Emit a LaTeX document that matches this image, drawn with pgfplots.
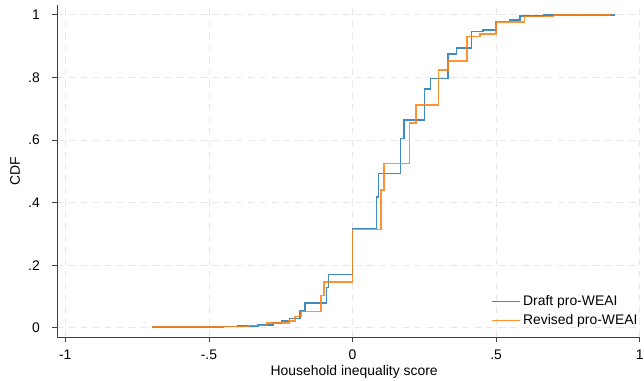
\documentclass[border=0pt]{standalone}
\usepackage{pgfplots}
\pgfplotsset{compat=1.18}
\usepackage{pgfplotstable}
\usepackage{fontspec}
\setmainfont{Liberation Sans}
\definecolor{draftblue}{HTML}{1F77B4}
\definecolor{revorange}{HTML}{FF7F0E}
\definecolor{gridgray}{HTML}{E8E8E8}
\definecolor{axgray}{HTML}{404040}

\pgfplotstableread{
x y
-0.698 0.002
-0.45 0.004
-0.40 0.006
-0.33 0.010
-0.276 0.015
-0.247 0.022
-0.22 0.030
-0.182 0.054
-0.165 0.080
-0.09 0.129
-0.083 0.170
0.0 0.318
0.084 0.418
0.090 0.493
0.167 0.605
0.180 0.663
0.250 0.762
0.272 0.797
0.333 0.874
0.362 0.893
0.414 0.946
0.454 0.952
0.500 0.979
0.546 0.984
0.584 0.996
0.666 1.0
0.914 1.0
}\drafttab

\pgfplotstableread{
x y
-0.698 0.002
-0.45 0.004
-0.36 0.008
-0.30 0.015
-0.222 0.022
-0.201 0.036
-0.180 0.052
-0.109 0.103
-0.100 0.147
0.0 0.314
0.099 0.441
0.109 0.525
0.199 0.655
0.221 0.712
0.300 0.824
0.333 0.853
0.399 0.930
0.443 0.939
0.500 0.976
0.598 0.995
0.700 1.0
0.900 1.0
}\revtab

\begin{document}
\fontsize{10.5}{12.6}\selectfont
\begin{tikzpicture}
\begin{axis}[
  scale only axis,
  width=440pt, height=250.6pt,
  xmin=-1.029, xmax=1.0,
  ymin=-0.029, ymax=1.031,
  axis x line*=bottom, axis y line*=left,
  axis line style={axgray, line width=0.6pt, -},
  xtick={-1,-0.5,0,0.5,1},
  xticklabels={-1,-.5,0,.5,1},
  ytick={0,0.2,0.4,0.6,0.8,1},
  yticklabels={0,.2,.4,.6,.8,1},
  tick align=outside,
  major tick length=3.8pt,
  tick style={axgray, line width=0.6pt},
  grid=major,
  major grid style={gridgray, dashed, dash pattern=on 5pt off 4pt, line width=0.6pt},
  xlabel={Household inequality score},
  ylabel={CDF},
  xlabel style={at={(axis description cs:0.51,-0.106)}, anchor=center},
  ylabel style={at={(axis description cs:-0.072,0.5)}, anchor=center},
  yticklabel style={anchor=east, xshift=-5.5pt},
  xticklabel style={anchor=north, yshift=-2.5pt},
  /pgf/number format/assume math mode=true,
  tick label style={font=\fontsize{10.5}{12.6}\selectfont, black},
  label style={font=\fontsize{10.5}{12.6}\selectfont, black},
  legend style={at={(axis description cs:1.008,0.014)}, anchor=south east, draw=none, fill=none,
    font=\fontsize{10.5}{12.6}\selectfont, row sep=1.2pt},
  legend cell align=left,
  legend image code/.code={\draw[#1] (0cm,0cm) -- (0.74cm,0cm);},
]
\addplot[const plot, draftblue, opacity=0.85, line width=1.2pt] table[x=x,y=y] {\drafttab};
\addlegendentry{Draft pro-WEAI}
\addplot[const plot, revorange, opacity=0.85, line width=1.2pt] table[x=x,y=y] {\revtab};
\addlegendentry{Revised pro-WEAI}
\end{axis}
\pgfresetboundingbox
\path[use as bounding box] ([xshift=-43pt,yshift=-33.2pt]current axis.south west) rectangle ([xshift=3.2pt,yshift=3.8pt]current axis.north east);
\end{tikzpicture}
\end{document}
